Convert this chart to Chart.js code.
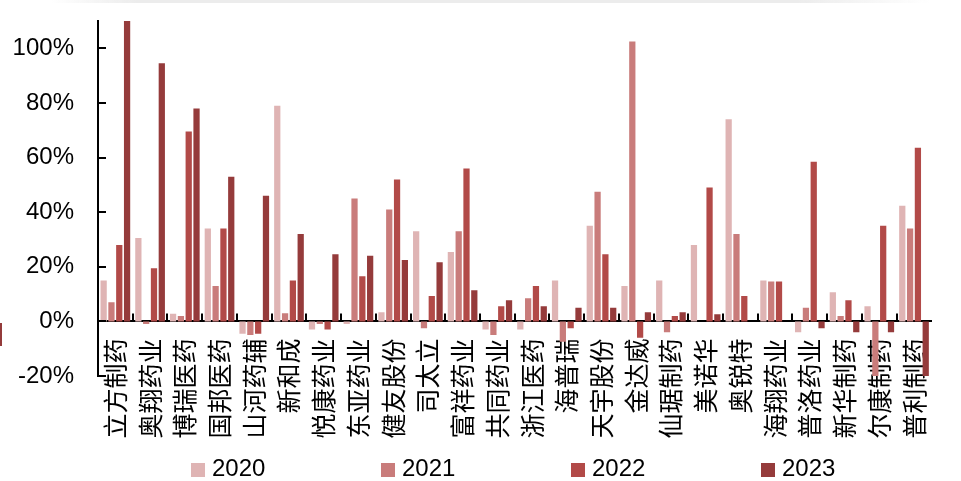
<!DOCTYPE html>
<html>
<head>
<meta charset="utf-8">
<script src="https://cdn.jsdelivr.net/npm/chart.js@4/dist/chart.umd.min.js"></script>
<style>
    html, body { margin:0; padding:0; background:#fff; }
    #wrap { position:relative; width:961px; height:481px; overflow:hidden; }
    #topShade { position:absolute; left:50px; top:0; width:880px; height:3px;
        background:linear-gradient(to right, rgba(230,230,230,0), #ececec 10%, #ececec 85%, rgba(240,240,240,0)); }
    #leftMark { position:absolute; left:0; top:323px; width:2px; height:23px; background:#943b3b; }
    #legend { position:absolute; left:191px; top:452px; height:28px; display:flex; }
    .item { width:190px; display:flex; align-items:flex-end; font-family:"Liberation Sans", Arial, sans-serif;
        font-size:24px; line-height:24px; color:#000; }
    .box { width:14px; height:14px; margin-right:7px; margin-bottom:3px; }
</style>
</head>
<body>
<div id="wrap">
    <canvas id="myChart" width="961" height="481"></canvas>
    <div id="topShade"></div>
    <div id="leftMark"></div>
    <div id="legend"></div>
</div>
<script>
let categories = ['立方制药', '奥翔药业', '博瑞医药', '国邦医药', '山河药辅', '新和成', '悦康药业', '东亚药业',
    '健友股份', '司太立', '富祥药业', '共同药业', '浙江医药', '海普瑞', '天宇股份', '金达威',
    '仙琚制药', '美诺华', '奥锐特', '海翔药业', '普洛药业', '新华制药', '尔康制药', '普利制药'];
let seriesNames = ['2020', '2021', '2022', '2023'];
let values2020 = [15, 30.5, 2.8, 34, -4.5, 79, -3, -1, 3.3, 33, 25.4, -3, -3, 15, 35, 13, 15, 28, 74, 15, -4, 10.7, 5.5, 42.3];
let values2021 = [7, -1, 2, 13, -5, 3, -1, 45, 41, -2.5, 33, -5, 8.5, -7.5, 47.5, 102.5, -4, 0, 32, 14.6, 5, 2, -21, 34];
let values2022 = [28, 19.5, 69.5, 34, -4.5, 15, -3, 16.5, 52, 9.3, 56, 5.5, 13, -2.5, 24.6, -6, 2, 49, 9.3, 14.6, 58.5, 7.7, 35, 63.6];
let values2023 = [115, 94.5, 78, 53, 46, 32, 24.6, 24, 22.5, 21.7, 11.4, 7.7, 5.5, 5, 5, 3.3, 3.3, 2.6, 0, 0, -2.5, -4, -4, -21];
let colors = ['rgb(223,180,180)', 'rgb(201,124,123)', 'rgb(178,74,72)', 'rgb(149,59,59)'];

document.addEventListener('DOMContentLoaded', createChart);

// small tick marks pointing into the plot, like the original
let innerTicks = {
    id: 'innerTicks',
    afterDraw(chart) {
        let ctx = chart.ctx;
        let x = chart.scales.x;
        let y = chart.scales.y;
        let area = chart.chartArea;
        let y0 = y.getPixelForValue(0);
        ctx.save();
        ctx.strokeStyle = '#000';
        ctx.lineWidth = 2;
        ctx.beginPath();
        y.ticks.forEach(t => {
            let py = Math.round(y.getPixelForValue(t.value));
            ctx.moveTo(area.left, py);
            ctx.lineTo(area.left + 8, py);
        });
        for (let i = 0; i < categories.length - 1; i++) {
            let px = Math.round((x.getPixelForValue(i) + x.getPixelForValue(i + 1)) / 2);
            ctx.moveTo(px, y0);
            ctx.lineTo(px, y0 - 8);
        }
        ctx.stroke();
        ctx.restore();
    }
};

function createLegend(){
    let legend = document.getElementById('legend');
    for (let i = 0; i < seriesNames.length; i++) {
        let item = document.createElement('div');
        item.className = 'item';
        let box = document.createElement('div');
        box.className = 'box';
        box.style.background = colors[i];
        item.appendChild(box);
        item.appendChild(document.createTextNode(seriesNames[i]));
        legend.appendChild(item);
    }
}

function createChart(){
    createLegend();
    let allValues = [values2020, values2021, values2022, values2023];
    let datasets = seriesNames.map((name, i) => ({
        label: name,
        data: allValues[i],
        backgroundColor: colors[i],
        categoryPercentage: 0.9,
        barPercentage: 0.8
    }));

    let config = {
        type: 'bar',
        data: { labels: categories, datasets: datasets },
        options: {
            responsive: false,
            animation: false,
            layout: { padding: { left: 0, right: 0, top: 21, bottom: 105 } },
            plugins: {
                legend: { display: false },
                tooltip: { enabled: false }
            },
            scales: {
                x: {
                    position: { y: 0 },
                    z: 1,
                    grid: { display: false, drawTicks: false },
                    border: { display: true, color: '#000', width: 2 },
                    ticks: {
                        autoSkip: false,
                        maxRotation: 90,
                        minRotation: 90,
                        padding: 17,
                        color: '#000',
                        font: { family: '"Noto Sans CJK SC", sans-serif', size: 25 }
                    }
                },
                y: {
                    min: -20,
                    max: 110,
                    grid: { display: false, drawTicks: false },
                    border: { display: true, color: '#000', width: 2 },
                    afterFit: scale => {
                        scale.width = 98;
                        scale.paddingTop = 0;
                        scale.paddingBottom = 0;
                    },
                    ticks: {
                        stepSize: 20,
                        includeBounds: false,
                        padding: 24,
                        color: '#000',
                        font: { family: '"Liberation Sans", Arial, sans-serif', size: 24 },
                        callback: v => v + '%'
                    }
                }
            }
        },
        plugins: [innerTicks]
    };
    new Chart(document.getElementById('myChart'), config);
}
</script>
</body>
</html>
